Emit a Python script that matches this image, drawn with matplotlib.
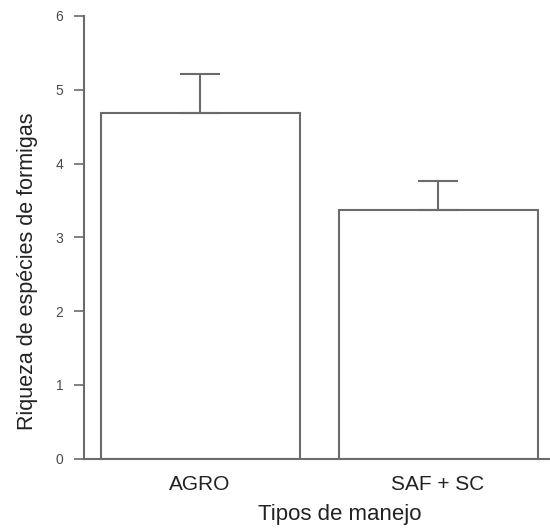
import matplotlib.pyplot as plt

plt.rcParams['font.family'] = ['Liberation Sans', 'DejaVu Sans']

# data
categories = ['AGRO', 'SAF + SC']
riqueza = [4.69, 3.37]
erro_sup = [0.53, 0.40]
y_ticks = [0, 1, 2, 3, 4, 5, 6]

line_col = '#6b6b6b'

fig = plt.figure(figsize=(5.5, 5.31), dpi=100)
ax = fig.add_axes([0.153, 0.136, 0.847, 0.834])

x = list(range(len(categories)))
ax.bar(x, riqueza, width=0.836, color='white', edgecolor=line_col, linewidth=1.5,
       yerr=[[0] * len(erro_sup), erro_sup], capsize=14.5,
       error_kw=dict(ecolor=line_col, elinewidth=1.5, capthick=1.5))

ax.set_xlim(-0.487, 1.47)
ax.set_ylim(0, 6)
ax.set_yticks(y_ticks)
ax.set_yticklabels([str(t) for t in y_ticks], fontsize=10, color='#4a4a4a')
ax.set_xticks(x)
ax.set_xticklabels(categories, fontsize=15, color='#222222')

ax.tick_params(axis='y', length=7, width=1.2, color=line_col, pad=8)
ax.tick_params(axis='x', length=0, pad=12)

for side in ['top', 'right']:
    ax.spines[side].set_visible(False)
for side in ['left', 'bottom']:
    ax.spines[side].set_color(line_col)
    ax.spines[side].set_linewidth(1.5)

ax.set_ylabel('Riqueza de espécies de formigas', fontsize=15.5, color='#222222')
ax.yaxis.set_label_coords(-0.1, 0.424)
ax.set_xlabel('Tipos de manejo', fontsize=16, color='#222222')
ax.xaxis.set_label_coords(0.548, -0.102)

fig.savefig('out.png', dpi=100)
